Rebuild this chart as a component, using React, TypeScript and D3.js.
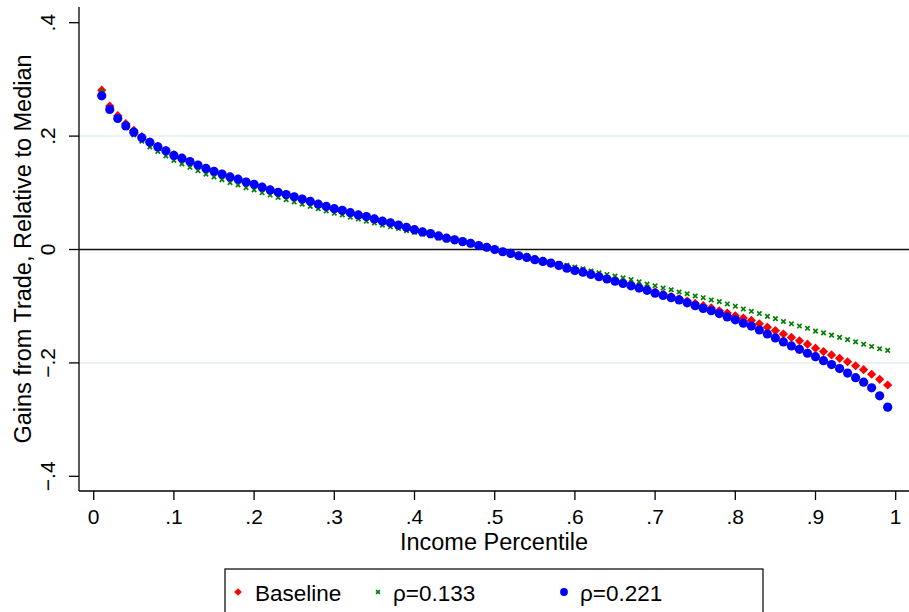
import { useEffect, useRef } from 'react';
import * as d3 from 'd3';

const percentiles = [
  0.01, 0.02, 0.03, 0.04, 0.05, 0.06, 0.07, 0.08, 0.09, 0.10,
  0.11, 0.12, 0.13, 0.14, 0.15, 0.16, 0.17, 0.18, 0.19, 0.20,
  0.21, 0.22, 0.23, 0.24, 0.25, 0.26, 0.27, 0.28, 0.29, 0.30,
  0.31, 0.32, 0.33, 0.34, 0.35, 0.36, 0.37, 0.38, 0.39, 0.40,
  0.41, 0.42, 0.43, 0.44, 0.45, 0.46, 0.47, 0.48, 0.49, 0.50,
  0.51, 0.52, 0.53, 0.54, 0.55, 0.56, 0.57, 0.58, 0.59, 0.60,
  0.61, 0.62, 0.63, 0.64, 0.65, 0.66, 0.67, 0.68, 0.69, 0.70,
  0.71, 0.72, 0.73, 0.74, 0.75, 0.76, 0.77, 0.78, 0.79, 0.80,
  0.81, 0.82, 0.83, 0.84, 0.85, 0.86, 0.87, 0.88, 0.89, 0.90,
  0.91, 0.92, 0.93, 0.94, 0.95, 0.96, 0.97, 0.98, 0.99,
];

const baseline = [
  0.281, 0.253, 0.236, 0.222, 0.210, 0.199, 0.190, 0.182, 0.175, 0.167,
  0.161, 0.155, 0.149, 0.143, 0.138, 0.133, 0.128, 0.124, 0.119, 0.115,
  0.110, 0.105, 0.101, 0.097, 0.093, 0.089, 0.085, 0.080, 0.076, 0.072,
  0.069, 0.065, 0.061, 0.058, 0.054, 0.050, 0.047, 0.043, 0.039, 0.035,
  0.031, 0.028, 0.024, 0.020, 0.017, 0.014, 0.011, 0.007, 0.004, 0.000,
  -0.004, -0.007, -0.011, -0.014, -0.018, -0.021, -0.024, -0.028, -0.032, -0.036,
  -0.039, -0.043, -0.047, -0.051, -0.055, -0.058, -0.062, -0.066, -0.070, -0.075,
  -0.079, -0.083, -0.087, -0.091, -0.095, -0.099, -0.103, -0.108, -0.112, -0.117,
  -0.121, -0.125, -0.131, -0.137, -0.143, -0.149, -0.155, -0.161, -0.167, -0.174,
  -0.180, -0.186, -0.192, -0.198, -0.205, -0.212, -0.220, -0.229, -0.239,
];

const rho133 = [
  0.279, 0.250, 0.231, 0.215, 0.202, 0.191, 0.181, 0.173, 0.165, 0.157,
  0.151, 0.145, 0.139, 0.133, 0.128, 0.123, 0.118, 0.114, 0.109, 0.105,
  0.100, 0.096, 0.092, 0.088, 0.084, 0.080, 0.076, 0.072, 0.068, 0.064,
  0.061, 0.057, 0.054, 0.050, 0.047, 0.043, 0.040, 0.037, 0.033, 0.030,
  0.027, 0.024, 0.020, 0.017, 0.014, 0.011, 0.008, 0.005, 0.002, -0.001,
  -0.004, -0.007, -0.010, -0.013, -0.016, -0.019, -0.022, -0.025, -0.028, -0.031,
  -0.034, -0.038, -0.041, -0.044, -0.047, -0.050, -0.053, -0.057, -0.061, -0.064,
  -0.068, -0.071, -0.075, -0.078, -0.082, -0.085, -0.089, -0.092, -0.096, -0.100,
  -0.105, -0.109, -0.113, -0.118, -0.122, -0.127, -0.131, -0.135, -0.139, -0.144,
  -0.147, -0.151, -0.155, -0.159, -0.163, -0.167, -0.171, -0.175, -0.178,
];

const rho221 = [
  0.271, 0.247, 0.231, 0.218, 0.207, 0.197, 0.189, 0.181, 0.174, 0.166,
  0.161, 0.155, 0.149, 0.143, 0.138, 0.133, 0.128, 0.124, 0.119, 0.115,
  0.110, 0.105, 0.101, 0.097, 0.093, 0.089, 0.085, 0.080, 0.076, 0.072,
  0.069, 0.065, 0.061, 0.058, 0.054, 0.050, 0.047, 0.043, 0.039, 0.035,
  0.031, 0.028, 0.024, 0.020, 0.017, 0.014, 0.011, 0.007, 0.004, 0.000,
  -0.004, -0.007, -0.011, -0.014, -0.018, -0.021, -0.024, -0.028, -0.033, -0.037,
  -0.040, -0.044, -0.048, -0.052, -0.056, -0.060, -0.064, -0.068, -0.072, -0.077,
  -0.081, -0.085, -0.089, -0.094, -0.099, -0.104, -0.108, -0.113, -0.119, -0.124,
  -0.130, -0.135, -0.142, -0.149, -0.156, -0.163, -0.170, -0.176, -0.183, -0.189,
  -0.196, -0.203, -0.210, -0.218, -0.226, -0.234, -0.244, -0.258, -0.278,
];

const xTicks = [0, 0.1, 0.2, 0.3, 0.4, 0.5, 0.6, 0.7, 0.8, 0.9, 1];
const xTickLabels = ['0', '.1', '.2', '.3', '.4', '.5', '.6', '.7', '.8', '.9', '1'];
const yTicks = [-0.4, -0.2, 0, 0.2, 0.4];
const yTickLabels = ['−.4', '−.2', '0', '.2', '.4'];
const legendLabels = ['Baseline', 'ρ=0.133', 'ρ=0.221'];

const FONT = '"Liberation Sans", Arial, Helvetica, sans-serif';

export default function App() {
  const svgRef = useRef<SVGSVGElement>(null);

  useEffect(() => {
    if (!svgRef.current) return;
    const width = 909;
    const height = 612;

    const svg = d3.select(svgRef.current)
      .attr('width', width)
      .attr('height', height)
      .attr('viewBox', `0 0 ${width} ${height}`);
    svg.selectAll('*').remove();

    const axisLeft = 79;
    const axisBottom = 491;
    const plotTop = 7;
    const plotRight = 909;

    const x = d3.scaleLinear().domain([0, 1]).range([93.7, 895.7]);
    const y = d3.scaleLinear().domain([-0.4, 0.4]).range([476.3, 22.7]);

    svg.append('rect').attr('width', width).attr('height', height).attr('fill', '#fff');

    // gridlines at +-.2
    svg.selectAll('.grid')
      .data(yTicks.filter(d => Math.abs(d) > 0.1 && Math.abs(d) < 0.3))
      .enter().append('line')
      .attr('x1', axisLeft).attr('x2', plotRight)
      .attr('y1', d => y(d)).attr('y2', d => y(d))
      .attr('stroke', '#e3ecef')
      .attr('stroke-width', 1.5);

    // zero reference line
    svg.append('line')
      .attr('x1', axisLeft).attr('x2', plotRight)
      .attr('y1', y(0)).attr('y2', y(0))
      .attr('stroke', '#111').attr('stroke-width', 1.3);

    // axes
    svg.append('line')
      .attr('x1', axisLeft).attr('x2', axisLeft)
      .attr('y1', plotTop).attr('y2', axisBottom)
      .attr('stroke', '#000').attr('stroke-width', 1.3);
    svg.append('line')
      .attr('x1', axisLeft).attr('x2', plotRight)
      .attr('y1', axisBottom).attr('y2', axisBottom)
      .attr('stroke', '#000').attr('stroke-width', 1.3);

    // y ticks + rotated labels
    svg.selectAll('.ytick')
      .data(yTicks)
      .enter().append('line')
      .attr('x1', axisLeft - 10).attr('x2', axisLeft)
      .attr('y1', d => y(d)).attr('y2', d => y(d))
      .attr('stroke', '#000').attr('stroke-width', 1.3);
    svg.selectAll('.ylabel')
      .data(yTicks)
      .enter().append('text')
      .attr('transform', d => `translate(55,${y(d)}) rotate(-90)`)
      .attr('text-anchor', 'middle')
      .attr('font-family', FONT)
      .attr('font-size', 21)
      .text((d, i) => yTickLabels[i]);

    // x ticks + labels
    svg.selectAll('.xtick')
      .data(xTicks)
      .enter().append('line')
      .attr('x1', d => x(d)).attr('x2', d => x(d))
      .attr('y1', axisBottom).attr('y2', axisBottom + 9)
      .attr('stroke', '#000').attr('stroke-width', 1.3);
    svg.selectAll('.xlabel')
      .data(xTicks)
      .enter().append('text')
      .attr('x', d => x(d))
      .attr('y', 523.5)
      .attr('text-anchor', 'middle')
      .attr('font-family', FONT)
      .attr('font-size', 21)
      .text((d, i) => xTickLabels[i]);

    // axis titles
    svg.append('text')
      .attr('x', (axisLeft + plotRight) / 2)
      .attr('y', 549.5)
      .attr('text-anchor', 'middle')
      .attr('font-family', FONT)
      .attr('font-size', 23.5)
      .text('Income Percentile');
    svg.append('text')
      .attr('transform', `translate(31,${(plotTop + axisBottom) / 2}) rotate(-90)`)
      .attr('text-anchor', 'middle')
      .attr('font-family', FONT)
      .attr('font-size', 23.5)
      .text('Gains from Trade, Relative to Median');

    const diamond = (r: number) => `M0,${-r}L${r},0L0,${r}L${-r},0Z`;
    const cross = (r: number) => `M${-r},${-r}L${r},${r}M${-r},${r}L${r},${-r}`;

    // series, in Stata draw order
    svg.append('g').selectAll('path')
      .data(percentiles)
      .enter().append('path')
      .attr('transform', (d, i) => `translate(${x(d)},${y(baseline[i])})`)
      .attr('d', diamond(4.6))
      .attr('fill', '#ff0000');

    svg.append('g').selectAll('path')
      .data(percentiles)
      .enter().append('path')
      .attr('transform', (d, i) => `translate(${x(d)},${y(rho133[i])})`)
      .attr('d', cross(2.2))
      .attr('fill', 'none')
      .attr('stroke', '#008000')
      .attr('stroke-width', 1.7);

    svg.append('g').selectAll('circle')
      .data(percentiles)
      .enter().append('circle')
      .attr('cx', d => x(d))
      .attr('cy', (d, i) => y(rho221[i]))
      .attr('r', 4.6)
      .attr('fill', '#0000ff');

    // legend
    const legend = svg.append('g');
    legend.append('rect')
      .attr('x', 225).attr('y', 569)
      .attr('width', 538).attr('height', 60)
      .attr('fill', '#fff')
      .attr('stroke', '#000').attr('stroke-width', 1.2);

    const legendY = 592;
    legend.append('path')
      .attr('transform', `translate(238,${legendY})`)
      .attr('d', diamond(3.8))
      .attr('fill', '#ff0000');
    legend.append('path')
      .attr('transform', `translate(378,${legendY})`)
      .attr('d', cross(1.9))
      .attr('fill', 'none')
      .attr('stroke', '#008000')
      .attr('stroke-width', 1.6);
    legend.append('circle')
      .attr('cx', 564).attr('cy', legendY)
      .attr('r', 3.9)
      .attr('fill', '#0000ff');

    const textX = [255, 393, 580];
    legend.selectAll('.ltext')
      .data(legendLabels)
      .enter().append('text')
      .attr('x', (d, i) => textX[i])
      .attr('y', 600.5)
      .attr('font-family', FONT)
      .attr('font-size', 22.5)
      .text(d => d);
  }, []);

  return (
    <div style={{ position: 'fixed', left: 0, top: 0, width: 909, height: 612, background: '#fff' }}>
      <svg ref={svgRef} style={{ display: 'block' }} />
    </div>
  );
}
